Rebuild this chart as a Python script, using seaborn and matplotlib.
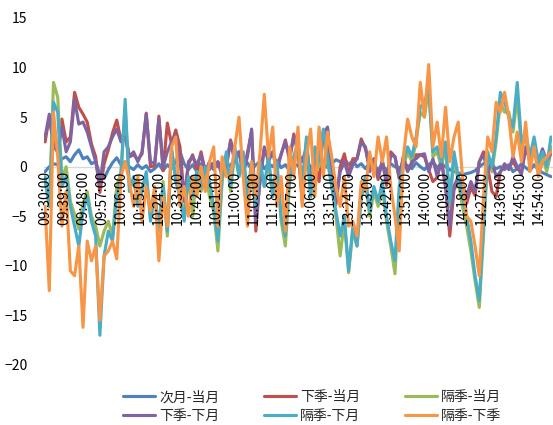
import matplotlib

matplotlib.use("Agg")

import matplotlib.pyplot as plt
import pandas as pd
import seaborn as sns

SERIES_NAMES = ["次月-当月", "下季-当月", "隔季-当月", "下季-下月", "隔季-下月", "隔季-下季"]
COLORS = ["#4F81BD", "#C0504D", "#9BBB59", "#8064A2", "#4BACC6", "#F79646"]

# one sample every 2 minutes, 09:30-11:30 then 13:02-15:00
MORNING = pd.date_range("09:30", "11:30", freq="2min")
AFTERNOON = pd.date_range("13:02", "15:00", freq="2min")

TICK_LABELS = [
    "09:30:00", "09:39:00", "09:48:00", "09:57:00", "10:06:00", "10:15:00",
    "10:24:00", "10:33:00", "10:42:00", "10:51:00", "11:00:00", "11:09:00",
    "11:18:00", "11:27:00", "13:06:00", "13:15:00", "13:24:00", "13:33:00",
    "13:42:00", "13:51:00", "14:00:00", "14:09:00", "14:18:00", "14:27:00",
    "14:36:00", "14:45:00", "14:54:00",
]

next_m_vs_cur = [
    -0.5, 0.0, 0.3, 0.2, 0.8, 1.0, 0.5, 1.2, 1.7, 0.8,
    1.0, 0.3, 0.5, -0.8, -1.2, -0.3, 0.4, 0.9, 0.2, 0.5,
    0.0, -0.3, 0.2, -0.2, 0.1, -0.5, -0.2, 0.3, -0.4, 0.2,
    -0.2, 0.5, 1.5, 0.3, -0.3, 0.2, -0.5, 0.3, 0.0, -0.3,
    0.4, 0.0, 0.3, -0.4, 0.2, 0.6, 0.0, -0.2, 0.4, -0.3,
    0.2, 0.5, -0.2, 0.3, 0.0, 0.6, -0.1, 0.2, -0.4, 0.3,
    0.1, -0.2, 0.4, 0.0, -0.3, 0.2, 0.5, -0.1, 0.3, 0.7,
    0.5, 0.8, 0.2, 0.6, 0.0, 0.3, -0.2, 0.4, 0.0, -0.3,
    0.2, -0.4, 0.3, 0.0, -0.2, 0.3, 0.1, -0.2, 0.4, 0.0,
    -0.3, 0.2, 0.5, -0.1, 0.3, 0.0, -0.3, -0.5, -0.6, -0.8,
    -0.7, -0.6, -0.4, 0.0, 0.3, 0.4, 0.1, -0.2, 0.0, -0.3,
    0.2, -0.5, -0.2, 0.3, -0.1, -0.4, 0.2, -0.3, -0.6, -0.8, -1.0,
]

next_q_vs_cur = [
    2.5, 5.0, 2.3, 1.7, 4.8, 2.5, 3.0, 7.5, 6.0, 5.3,
    4.5, 2.3, 1.0, -2.6, 0.3, 1.7, 3.4, 4.7, 2.7, 3.5,
    1.0, 1.2, 0.7, 1.3, 5.4, 0.0, 0.1, 5.1, -0.4, 4.4,
    2.3, 3.7, 2.0, -3.2, 0.2, 1.2, -0.3, 1.5, -0.5, 0.2,
    0.1, 0.5, -0.7, -0.1, 2.7, 1.1, 1.5, -0.7, 1.4, 3.5,
    -6.5, -1.0, 1.8, 0.8, 1.5, 0.1, 1.2, 2.7, 0.6, 3.3,
    1.6, -3.5, 2.4, -1.5, 0.2, -1.5, 3.5, 3.9, -1.2, -3.8,
    0.0, 1.3, -0.8, 0.8, 0.8, 2.8, 1.8, -0.1, 0.8, -1.3,
    0.7, -1.9, 1.5, 1.0, -1.2, 1.1, -0.4, 0.3, 1.2, 1.2,
    1.0, -0.3, -1.5, -1.1, 0.8, -2.0, -7.0, -2.3, -1.6, -2.6,
    -3.7, -2.1, -2.9, 0.5, 1.5, -0.1, -2.5, -3.0, -0.5, 0.0,
    -0.1, 0.5, -0.2, -0.5, 1.9, 0.6, 2.4, 0.2, 1.2, -0.3, 1.5,
]

far_q_vs_cur = [
    -1.5, -4.0, 8.5, 7.0, -1.2, 0.0, -3.5, -4.8, -6.3, -3.7,
    -2.5, -5.0, -6.0, -8.0, -6.5, -5.5, -7.0, -2.0, -0.5, 6.0,
    -2.0, -1.5, -3.5, -2.0, -1.0, -5.0, -2.5, -6.5, -1.5, -7.0,
    1.5, -1.0, -2.5, -5.0, -1.0, -5.0, -0.5, -2.5, -0.5, -3.0,
    -4.5, -8.5, -1.5, 1.0, -2.5, 1.5, -1.0, 1.0, -3.5, 0.0,
    -4.5, 0.5, -2.0, 0.5, -3.0, 0.0, -5.5, -8.0, -1.5, 0.5,
    2.0, -2.5, 2.5, -3.0, 1.5, 0.0, 3.5, 0.5, -2.0, -5.0,
    -9.0, -5.5, -10.7, -6.5, -8.0, -3.0, -1.5, -5.0, -2.5, -4.0,
    -2.0, -5.5, -8.0, -10.8, -3.0, 0.0, 1.5, 0.5, 2.5, 5.5,
    5.0, 8.0, 1.0, 1.5, 0.0, 2.0, -4.0, 1.0, -1.5, -4.0,
    -6.0, -8.5, -11.5, -14.2, -7.0, 1.0, -0.5, 2.5, 6.5, 5.5,
    5.5, 3.5, 7.0, 2.0, 3.0, 0.5, 2.5, 0.0, 1.0, -0.5, 2.0,
]

next_q_vs_next_m = [
    3.0, 5.3, 2.0, 1.5, 4.0, 1.5, 2.5, 6.8, 4.3, 4.5,
    3.5, 2.0, 0.5, -1.8, 1.5, 2.0, 3.0, 3.8, 2.5, 3.0,
    1.0, 1.5, 0.5, 1.5, 5.3, 0.5, 0.3, 4.8, 0.0, 1.5,
    2.5, 3.2, 0.5, -3.5, 0.5, 1.0, 0.2, 1.2, -0.5, 0.5,
    -0.3, 0.5, -1.0, 0.3, 2.5, 0.5, 1.5, -0.5, 1.0, 3.8,
    -5.5, -1.5, 2.0, 0.5, 1.5, -0.5, 1.3, 2.5, 1.0, 3.0,
    1.5, 0.5, 2.0, -1.5, 0.5, 1.0, 3.0, 4.0, -1.5, -3.5,
    -0.5, 0.5, -1.0, 0.2, 0.8, 2.5, 2.0, -0.5, 0.8, -1.0,
    0.5, -1.5, 1.2, 1.0, -1.0, 0.8, -0.5, 0.5, 0.8, 1.2,
    1.3, -0.5, 0.8, -1.0, 0.5, -2.0, -6.0, -2.0, -1.0, -1.8,
    -3.0, -1.5, -2.5, 0.5, 1.2, -0.5, 0.5, -1.0, -0.5, 0.3,
    -0.3, 1.0, 0.0, -0.8, 2.0, 1.0, 2.2, 0.5, 1.8, 0.5, 1.5,
]

far_q_vs_next_m = [
    -1.0, -4.0, 6.5, 5.5, -2.0, -1.0, -4.0, -6.0, -8.0, -4.5,
    -3.0, -5.5, -7.0, -17.0, -9.0, -6.5, -7.5, -3.0, -1.0, 6.8,
    -2.5, -1.0, -4.0, -2.5, -0.5, -5.5, -3.0, -6.0, -2.0, -6.5,
    2.0, -1.5, -3.0, -5.5, -1.0, -3.0, -0.5, -2.0, 0.0, -1.5,
    -4.0, -7.5, -1.0, 1.5, -2.0, 2.0, -1.0, 1.5, -3.0, 0.5,
    -4.0, 0.5, -2.0, 1.0, -3.0, 0.5, -5.0, -7.0, -1.0, 1.0,
    2.5, -2.0, 3.0, -3.0, 2.0, 0.5, 3.8, 1.0, -2.0, -4.5,
    -7.0, -5.0, -10.5, -6.0, -8.0, -3.0, -1.0, -4.5, -2.0, -3.5,
    -1.5, -5.0, -7.5, -9.5, -2.0, 0.5, 2.0, 1.0, 3.0, 6.0,
    6.5, 8.0, 1.5, 2.0, 0.5, 2.5, -3.5, 1.5, -1.0, -3.0,
    -5.0, -7.5, -11.0, -13.5, -6.0, 1.5, 0.0, 3.0, 7.5, 6.5,
    5.0, 4.0, 8.5, 2.5, 3.5, 1.0, 3.0, 0.5, 1.5, 0.0, 3.0,
]

far_q_vs_next_q = [
    -4.0, -12.5, 5.5, 1.0, -6.0, -2.5, -10.5, -11.0, -8.0, -16.2,
    -7.5, -9.5, -8.0, -15.5, -9.0, -8.5, -7.5, -9.3, -1.0, 0.5,
    -1.5, -4.0, -1.0, -5.5, -2.0, -4.5, -2.0, -9.5, -3.0, -6.0,
    2.0, 3.0, -4.0, -2.0, -5.0, -1.0, -3.0, 0.0, -2.5, 0.5,
    2.0, -6.0, 1.0, -1.0, -1.0, 2.0, 5.0, -1.0, -6.0, 0.5,
    -3.0, 1.5, 7.3, 1.0, 4.0, -4.0, -1.0, -6.5, 2.0, -1.0,
    4.0, -4.0, 1.0, 3.8, -3.0, 4.0, -1.0, 3.5, 1.0, -2.0,
    -4.0, -1.0, -6.0, -5.5, -7.0, -1.5, -2.5, 1.5, -1.0, 3.0,
    0.5, 3.0, -2.0, -5.0, -8.5, 1.0, 4.8, 3.0, 2.0, 8.5,
    5.0, 10.3, 2.0, 4.5, 1.0, 6.0, 0.5, 3.0, 4.5, -1.0,
    -5.0, -5.5, -8.0, -11.0, -3.0, 3.0, 1.5, 6.5, 5.5, 7.5,
    5.0, 1.0, 3.5, 0.5, 4.5, -0.5, 2.0, -1.0, 0.5, 1.0, 1.5,
]

SERIES_VALUES = [
    next_m_vs_cur, next_q_vs_cur, far_q_vs_cur,
    next_q_vs_next_m, far_q_vs_next_m, far_q_vs_next_q,
]


def minute_position(ts):
    # trading-minute index on the category axis (lunch break removed)
    minutes = ts.hour * 60 + ts.minute
    if minutes <= 11 * 60 + 30:
        return minutes - (9 * 60 + 30)
    return 120 + minutes - 13 * 60


def build_frame():
    times = list(MORNING) + list(AFTERNOON)
    pos = [minute_position(t) for t in times]
    frames = []
    for name, values in zip(SERIES_NAMES, SERIES_VALUES):
        frames.append(pd.DataFrame({"pos": pos, "value": values, "series": name}))
    return pd.concat(frames, ignore_index=True)


def main():
    sns.set_theme(style="white")
    plt.rcParams["font.family"] = ["Noto Sans CJK SC", "DejaVu Sans"]

    df = build_frame()

    fig = plt.figure(figsize=(5.53, 4.25), dpi=100)
    ax = fig.add_axes([0.0796, 0.1412, 0.9186, 0.8165])

    sns.lineplot(
        data=df, x="pos", y="value", hue="series", hue_order=SERIES_NAMES,
        palette=COLORS, linewidth=2.25, estimator=None, sort=True, ax=ax,
        legend=False,
    )

    # move the category axis to y = 0 first: set_position resets the ticks
    for side in ["top", "right", "left"]:
        ax.spines[side].set_visible(False)
    ax.spines["bottom"].set_position(("data", 0))
    ax.spines["bottom"].set_color("#d9d9d9")
    ax.spines["bottom"].set_linewidth(1.0)
    ax.spines["bottom"].set_zorder(0)

    ax.set_xlim(-0.5, 240.5)
    ax.set_ylim(-20, 15)
    ax.set_yticks(range(-20, 16, 5))
    ax.set_xticks(range(0, 235, 9))
    ax.set_xticklabels(TICK_LABELS, rotation=90, va="top", ha="center")
    ax.set_xlabel("")
    ax.set_ylabel("")

    ax.tick_params(axis="x", length=0, pad=3, labelsize=10, colors="black")
    ax.tick_params(axis="y", length=0, pad=12, labelsize=10, colors="black")
    # time labels sit on top of the lines, as in the spreadsheet chart
    ax.xaxis.set_zorder(3)

    handles = [plt.Line2D([], [], color=c, linewidth=2.25) for c in COLORS]
    # matplotlib fills columns first, so reorder to read row by row
    order = [0, 3, 1, 4, 2, 5]
    fig.legend(
        [handles[i] for i in order], [SERIES_NAMES[i] for i in order],
        loc="lower center", bbox_to_anchor=(0.565, -0.025), ncol=3,
        frameon=False, fontsize=10, handlelength=2.3, handletextpad=0.3,
        columnspacing=3.2, labelspacing=0.35,
    )

    fig.savefig("out.png", dpi=100)
    plt.close(fig)


if __name__ == "__main__":
    main()
